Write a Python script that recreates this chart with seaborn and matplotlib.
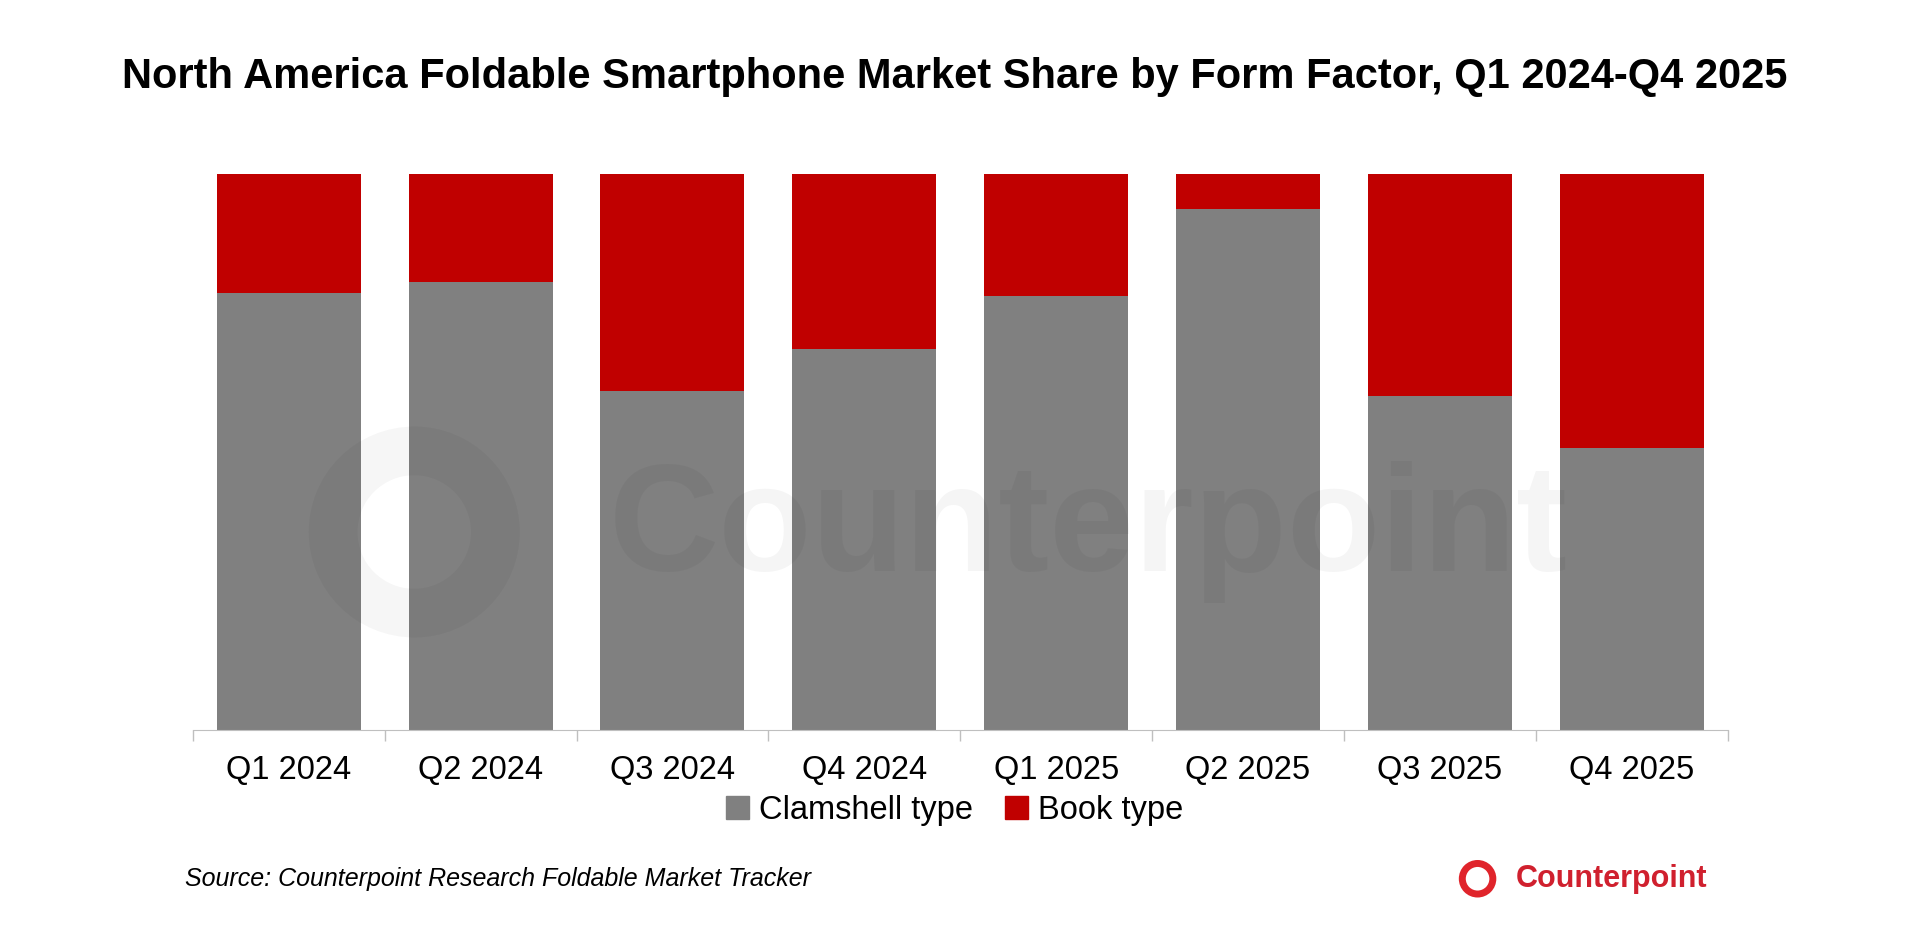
import matplotlib
matplotlib.use("Agg")
import matplotlib.pyplot as plt
import seaborn as sns
import numpy as np
from matplotlib.patches import Patch, Ellipse

quarters = ["Q1 2024","Q2 2024","Q3 2024","Q4 2024","Q1 2025","Q2 2025","Q3 2025","Q4 2025"]
clamshell = [78.5, 80.5, 61.0, 68.4, 78.0, 93.6, 60.0, 50.7]
book = [100 - c for c in clamshell]

sns.set_style("white")
plt.rcParams['font.family'] = ['Liberation Sans', 'DejaVu Sans']
plt.rcParams['text.color'] = 'black'
plt.rcParams['xtick.color'] = 'black'

fig = plt.figure(figsize=(19.09, 9.5), dpi=100)
ax = fig.add_axes([0.101, 0.232, 0.804, 0.585])
grey = "#808080"; red = "#C00000"
sns.barplot(x=quarters, y=clamshell, color=grey, width=0.75, ax=ax, saturation=1, linewidth=0)
ax.bar(np.arange(len(quarters)), book, bottom=clamshell, color=red, width=0.75, linewidth=0)
ax.set_ylim(0, 100)
ax.set_xlim(-0.5, len(quarters) - 0.5)
ax.set_yticks([])
for s in ["top", "right", "left"]:
    ax.spines[s].set_visible(False)
ax.spines["bottom"].set_color("#BFBFBF")
ax.set_xticks(np.arange(-0.5, len(quarters), 1), minor=True)
ax.tick_params(axis="x", which="minor", bottom=True, length=8, color="#BFBFBF", width=1)
ax.tick_params(axis="x", which="major", length=0, labelsize=23.5, pad=18, labelcolor="black")

# watermark
fig.text(0.57, 0.44, "Counterpoint", fontsize=110, fontweight="bold", color="#000000",
         alpha=0.04, ha="center", va="center")
W, H = 1909, 950
r = 0.085
fig.patches.append(Ellipse((0.217, 0.44), r, r * W / H, transform=fig.transFigure,
                           fill=False, lw=35, edgecolor="#000000", alpha=0.035))

fig.legend(handles=[Patch(color=grey, label="Clamshell type"), Patch(color=red, label="Book type")],
           loc="center", bbox_to_anchor=(0.5, 0.147), ncol=2, frameon=False, fontsize=23.5,
           handlelength=0.7, handleheight=0.7, handletextpad=0.3, columnspacing=1.0)
fig.suptitle("North America Foldable Smartphone Market Share by Form Factor, Q1 2024-Q4 2025",
             y=0.94, fontsize=30, fontweight="bold", color="black")
fig.text(0.097, 0.075, "Source: Counterpoint Research Foldable Market Tracker", fontsize=18,
         style="italic", va="center", color="black")
fig.patches.append(Ellipse((0.774, 0.075), 0.016, 0.016 * W / H, transform=fig.transFigure,
                           fill=False, lw=5, edgecolor="#E0242B"))
fig.text(0.794, 0.075, "Counterpoint", fontsize=22, fontweight="bold", color="#D0202E", va="center")
fig.savefig("out.png", dpi=100)
